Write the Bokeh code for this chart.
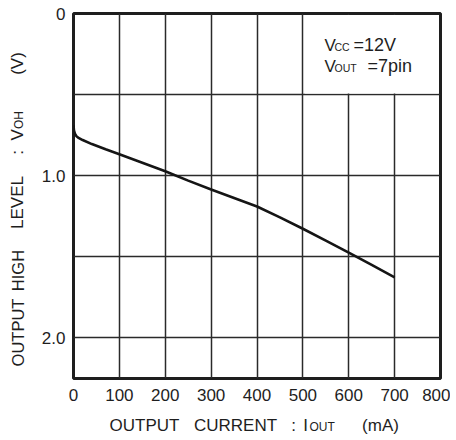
import math
from bokeh.plotting import figure
from bokeh.layouts import row, column
from bokeh.models import Range1d, FixedTicker, Label, BoxAnnotation
from bokeh.embed import file_html
from bokeh.resources import INLINE

# ---- data ----
current_ma = [0, 1, 3, 6, 10, 20, 40, 70, 100, 150, 200, 250, 300, 350,
              400, 450, 500, 550, 600, 650, 700]
voh_v = [0.69, 0.72, 0.74, 0.755, 0.765, 0.78, 0.805, 0.837, 0.868, 0.92,
         0.972, 1.03, 1.085, 1.137, 1.19, 1.257, 1.327, 1.40, 1.474, 1.55, 1.626]
x_ticks = [0, 100, 200, 300, 400, 500, 600, 700, 800]
y_ticks = [0, 1, 2]
y_tick_labels = {0: "0", 1: "1.0", 2: "2.0"}
x_grid = [100, 200, 300, 400, 500, 600, 700]
y_grid = [0.5, 1.0, 1.5, 2.0]

X0, X1 = 0, 800
Y0, Y1 = 0, 2.25
TOTAL_W, TOTAL_H = 450, 436
LEFT_W = 30          # strip holding the y-axis title
MAIN_H = 406         # main chart height; below it a strip for the x-axis title
PL, PT, FW, FH = 73, 13, 367, 365   # frame position on the page (px)
FONT = "Liberation Sans"
INK = "#1e1e1e"

main_w = TOTAL_W - LEFT_W
FL = PL - LEFT_W
BOT = MAIN_H - PT - FH


def dx(px):
    return X0 + (px - PL) / FW * (X1 - X0)


def dy(py):
    return Y0 + (py - PT) / FH * (Y1 - Y0)


p = figure(width=main_w, height=MAIN_H, x_range=Range1d(X0, X1), y_range=Range1d(Y1, Y0),
           output_backend="svg", toolbar_location=None, title=None,
           min_border_left=FL, min_border_right=main_w - FL - FW,
           min_border_top=PT, min_border_bottom=BOT)
p.background_fill_color = "white"
p.border_fill_color = "white"
p.outline_line_color = INK
p.outline_line_width = 3
p.outline_line_alpha = 1

for ax in (p.xaxis[0], p.yaxis[0]):
    ax.axis_line_color = None
    ax.major_tick_line_color = None
    ax.minor_tick_line_color = None
    ax.major_label_text_font = FONT
    ax.major_label_text_font_size = "17px"
    ax.major_label_text_color = INK
p.xaxis.ticker = FixedTicker(ticks=x_ticks)
p.xaxis.major_label_standoff = 4
p.yaxis.ticker = FixedTicker(ticks=y_ticks)
p.yaxis.major_label_overrides = y_tick_labels
p.yaxis.major_label_standoff = 2

p.xgrid.ticker = FixedTicker(ticks=x_grid)
p.ygrid.ticker = FixedTicker(ticks=y_grid)
for g in (p.xgrid[0], p.ygrid[0]):
    g.grid_line_color = "#2a2a2a"
    g.grid_line_width = 1.5
    g.grid_line_alpha = 1

# white area behind the condition text
p.add_layout(BoxAnnotation(left=dx(304.5), right=dx(438), top=dy(14.6), bottom=dy(93),
                           fill_color="white", fill_alpha=1, line_color=None, level="underlay"))

p.line(current_ma, voh_v, line_width=2.6, line_color="#151515")


def lab(fig, ox, fbottom, text, px, base, size, align="left", rotated=False):
    # page pixels; 'base' is the page coordinate of the text baseline
    # (y for horizontal text, x for text rotated by 90 degrees)
    mid = base - 0.35 * size
    if rotated:
        sx, sy, angle = mid - ox, fbottom - px, math.pi / 2
    else:
        sx, sy, angle = px - ox, fbottom - mid, 0.0
    fig.add_layout(Label(x=sx, y=sy, x_units="screen", y_units="screen",
                         text=text, text_font=FONT, text_font_size=f"{size}px",
                         text_color=INK, text_align=align, text_baseline="middle",
                         angle=angle))


def strip(w, h, top=0, bottom=0):
    f = figure(width=w, height=h, x_range=Range1d(0, 1), y_range=Range1d(0, 1),
               x_axis_type=None, y_axis_type=None, output_backend="svg",
               toolbar_location=None, title=None, min_border_left=0, min_border_right=0,
               min_border_top=top, min_border_bottom=bottom)
    f.outline_line_color = None
    f.background_fill_color = "white"
    f.border_fill_color = "white"
    return f


# conditions (inside the main frame)
for text, px, base, size in [("V", 324, 50.5, 17), ("CC", 334, 50.5, 10.5), ("=12V", 353, 50.5, 18),
                             ("V", 324, 71.5, 17), ("OUT", 334, 71.5, 10.5), ("=7pin", 367, 71.5, 18)]:
    lab(p, PL, PT + FH, text, px, base, size)

# y-axis title strip (rotated text); same vertical borders as the main chart
ly = strip(LEFT_W, MAIN_H, top=PT, bottom=BOT)
for text, py, size, align in [("OUTPUT", 332, 16.5, "center"), ("HIGH", 270, 16.5, "center"),
                              ("LEVEL", 202, 17, "center"), (":", 152, 17, "center"),
                              ("V", 140, 17, "left"), ("OH", 128.5, 12, "left"),
                              ("(V)", 63, 17, "center")]:
    lab(ly, 0, PT + FH, text, py, 23, size, align=align, rotated=True)

# x-axis title strip
bottom_h = TOTAL_H - MAIN_H
lx = strip(TOTAL_W, bottom_h)
for text, px, size, align in [("OUTPUT", 144, 17, "center"), ("CURRENT", 235, 17, "center"),
                              (":", 293, 17, "center"), ("I", 305, 17, "center"),
                              ("OUT", 309, 12, "left"), ("(mA)", 380, 17, "center")]:
    lab(lx, 0, TOTAL_H, text, px, 431, size, align=align)

layout = column(row(ly, p, spacing=0), lx, spacing=0)
open("out.html", "w").write(file_html(layout, INLINE))
